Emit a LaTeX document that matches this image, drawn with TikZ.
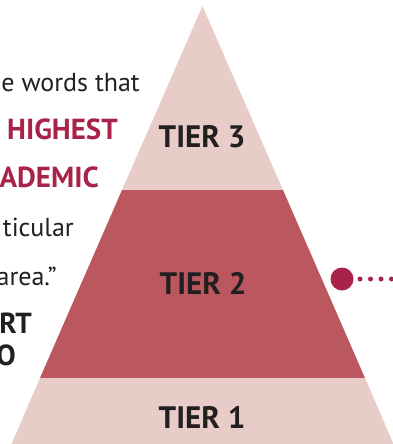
\documentclass[tikz,border=0pt]{standalone}
\usepackage{fontspec}
\setmainfont{PT Sans}
\usepackage{xcolor}
\usetikzlibrary{positioning}

\definecolor{tierlight}{HTML}{E8CCC8}
\definecolor{tiermid}{HTML}{BA575F}
\definecolor{crimson}{HTML}{A8234A}
\definecolor{ink}{HTML}{231F20}

\begin{document}
\begin{tikzpicture}[
  x=1pt, y=-1pt,
  tier/.style={font=\fontsize{31}{31}\selectfont\bfseries, text=ink, inner sep=0pt, anchor=base},
  body/.style={font=\fontsize{26}{26}\selectfont, text=ink, inner sep=0pt, anchor=base east},
  keyword/.style={body, font=\fontsize{29}{29}\selectfont\bfseries, text=crimson},
  strong/.style={body, font=\fontsize{29}{29}\selectfont\bfseries},
  dot/.style={circle, fill=crimson, minimum size=23pt, inner sep=0pt},
  leader/.style={crimson, line width=5pt, line cap=round, dash pattern=on 0pt off 10.5pt, dash phase=3pt}
]
\useasboundingbox (0,0) rectangle (392,444);

% pyramid outline
\coordinate (apex) at (202.5,6);
\coordinate (topL) at (122,190);
\coordinate (topR) at (283,190);
\coordinate (midL) at (40,378);
\coordinate (midR) at (365,378);
\coordinate (baseL) at (11.5,444);
\coordinate (baseR) at (393.5,444);

\fill[tierlight] (apex) -- (topR) -- (topL) -- cycle;
\fill[tiermid] (topL) -- (topR) -- (midR) -- (midL) -- cycle;
\fill[tierlight] (midL) -- (midR) -- (baseR) -- (baseL) -- cycle;

\node[tier] (tier3) at (202,147) {TIER 3};
\node[tier] (tier2) at (203,294) {TIER 2};
\node[tier] (tier1) at (202,428) {TIER 1};

% running text on the left
\node[body] (line1) at (140,92) {e words that};
\node[keyword] (line2) at (118,139) {HIGHEST};
\node[keyword] (line3) at (99,187) {ADEMIC};
\node[body] (line4) at (74,236) {ticular};
\node[body] (line5) at (57,285) {area.”};
\node[strong] (line6) at (32,333) {RT};
\node[strong] (line7) at (16,365) {O};

% callout marker
\coordinate (leaderend) at (394,279);
\draw[leader] (342,279) coordinate (leadstart) -- (leaderend);
\node[dot] (marker) at (leadstart) {};
\end{tikzpicture}
\end{document}
